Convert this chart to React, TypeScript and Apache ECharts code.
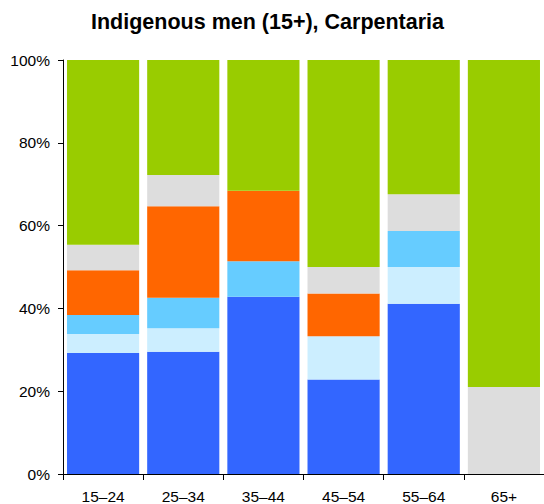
import React, { useEffect, useRef } from "react";
import * as echarts from "echarts";

const categories = ["15–24", "25–34", "35–44", "45–54", "55–64", "65+"];
const seriesNames = ["Segment 1", "Segment 2", "Segment 3", "Segment 4", "Segment 5", "Segment 6"];
const blueValues = [29.2, 29.5, 42.8, 22.8, 41.1, 0];
const lightBlueValues = [4.6, 5.7, 0, 10.5, 8.9, 0];
const skyBlueValues = [4.6, 7.4, 8.6, 0, 8.7, 0];
const orangeValues = [10.8, 22.1, 17.0, 10.3, 0, 0];
const greyValues = [6.2, 7.5, 0, 6.4, 8.9, 21.0];
const greenValues = [44.6, 27.8, 31.6, 50.0, 32.4, 79.0];
const colors = ["#3366FF", "#CCEEFF", "#66CCFF", "#FF6600", "#DDDDDD", "#99CC00"];

export default function App() {
  const ref = useRef<HTMLDivElement>(null);
  useEffect(() => {
    if (!ref.current) return;
    const chart = echarts.init(ref.current, null, { renderer: "svg" });
    const all = [blueValues, lightBlueValues, skyBlueValues, orangeValues, greyValues, greenValues];
    const font = "'Liberation Sans', Arial, Helvetica, sans-serif";
    chart.setOption({
      animation: false,
      textStyle: { fontFamily: font },
      title: {
        text: "Indigenous men (15+), Carpentaria",
        left: 86,
        top: 6,
        textStyle: { fontFamily: font, fontSize: 21.5, fontWeight: "bold", color: "#000" },
      },
      grid: { left: 63, right: 0, top: 60, bottom: 30, containLabel: false },
      xAxis: {
        type: "category",
        data: categories,
        axisLine: { lineStyle: { color: "#000", width: 1 } },
        axisTick: { show: true, length: 6, lineStyle: { color: "#000" } },
        axisLabel: { color: "#000", fontSize: 15.5, margin: 14, fontFamily: font },
      },
      yAxis: {
        type: "value",
        min: 0,
        max: 100,
        interval: 20,
        splitLine: { show: false },
        axisLine: { show: true, lineStyle: { color: "#000", width: 1 } },
        axisTick: { show: true, length: 5, lineStyle: { color: "#000" } },
        axisLabel: { color: "#000", fontSize: 15.5, margin: 13, formatter: "{value}%", fontFamily: font },
      },
      series: all.map((d, i) => ({
        name: seriesNames[i],
        type: "bar",
        stack: "total",
        data: d,
        barCategoryGap: "10%",
        itemStyle: { color: colors[i] },
      })),
    });
    return () => chart.dispose();
  }, []);
  return (
    <div
      ref={ref}
      style={{ position: "fixed", left: 0, top: 0, width: 544, height: 504, background: "#fff" }}
    />
  );
}
